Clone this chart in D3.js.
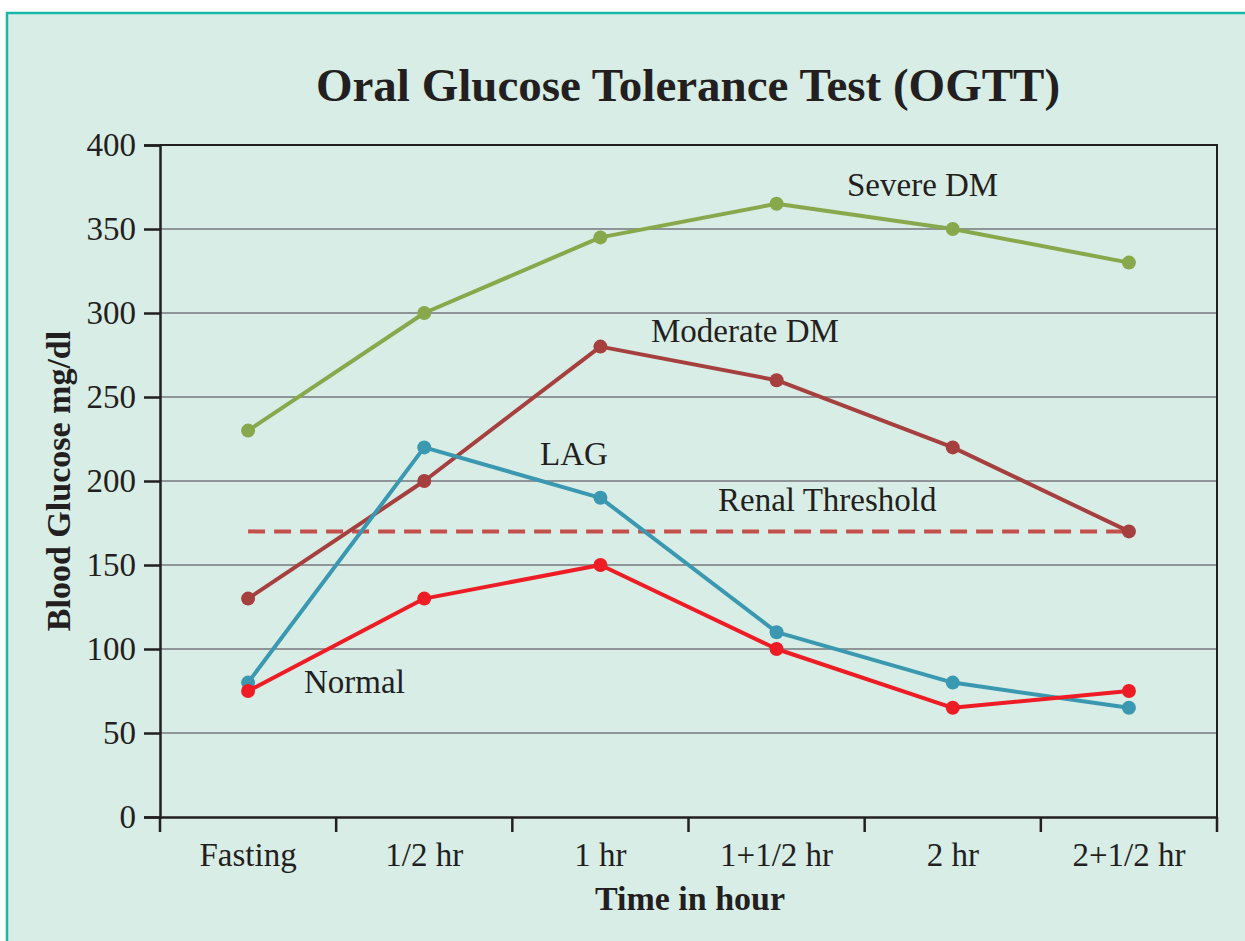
<!DOCTYPE html>
<html>
<head>
<meta charset="utf-8">
<script src="https://cdn.jsdelivr.net/npm/d3@7"></script>
<style>
  html, body { margin: 0; padding: 0; background: #ffffff; }
  svg { display: block; }
</style>
</head>
<body>
<svg id="chart" width="1245" height="941"></svg>
<script>
// Sampling times and measured blood glucose (mg/dl) for each curve
const times = ["Fasting", "1/2 hr", "1 hr", "1+1/2 hr", "2 hr", "2+1/2 hr"];
const severeDM = [230, 300, 345, 365, 350, 330];
const moderateDM = [130, 200, 280, 260, 220, 170];
const lag = [80, 220, 190, 110, 80, 65];
const normal = [75, 130, 150, 100, 65, 75];
const renalThreshold = 170;
const yTicks = [0, 50, 100, 150, 200, 250, 300, 350, 400];

const seriesList = [
  { name: "Severe DM", values: severeDM, color: "#87a84b" },
  { name: "Moderate DM", values: moderateDM, color: "#a6403f" },
  { name: "LAG", values: lag, color: "#3b98b1" },
  { name: "Normal", values: normal, color: "#ee1d25" }
];

const serif = "'Liberation Serif', 'DejaVu Serif', serif";
const svg = d3.select("#chart");

// Panel background with teal frame
svg.append("rect")
  .attr("x", 7).attr("y", 13).attr("width", 1260).attr("height", 960)
  .attr("fill", "#d8ede6").attr("stroke", "#17b7ab").attr("stroke-width", 2.5);

const plotLeft = 160, plotRight = 1217, plotTop = 145, plotBottom = 817;

const x = d3.scaleBand().domain(times).range([plotLeft, plotRight]).padding(0);
const y = d3.scaleLinear().domain([0, 400]).range([plotBottom, plotTop]);
const cx = d => x(d) + x.bandwidth() / 2;

// Horizontal grid lines
svg.append("g")
  .selectAll("line")
  .data(yTicks.filter(t => t > 0 && t < 400))
  .join("line")
  .attr("x1", plotLeft).attr("x2", plotRight)
  .attr("y1", d => y(d)).attr("y2", d => y(d))
  .attr("stroke", "#8f9497").attr("stroke-width", 2);

// Frame top and right edges
svg.append("path")
  .attr("d", `M${plotLeft},${plotTop}H${plotRight}V${plotBottom}`)
  .attr("fill", "none").attr("stroke", "#231f20").attr("stroke-width", 2);

// Y axis
const yAxis = svg.append("g")
  .attr("transform", `translate(${plotLeft},0)`)
  .call(d3.axisLeft(y).tickValues(yTicks).tickSize(16).tickPadding(8));
yAxis.select(".domain").attr("stroke", "#231f20").attr("stroke-width", 2.5);
yAxis.selectAll(".tick line").attr("stroke", "#231f20").attr("stroke-width", 2.5);
yAxis.selectAll(".tick text")
  .attr("font-family", serif).attr("font-size", 33).attr("fill", "#231f20");

// X axis: ticks at band boundaries
const xAxis = svg.append("g")
  .attr("transform", `translate(0,${plotBottom})`)
  .call(d3.axisBottom(x).tickSize(0).tickPadding(26));
xAxis.select(".domain").attr("stroke", "#231f20").attr("stroke-width", 2.5);
xAxis.selectAll(".tick text")
  .attr("font-family", serif).attr("font-size", 33).attr("fill", "#231f20");
const bounds = times.map(t => x(t)).concat([plotRight]);
xAxis.selectAll(".bound")
  .data(bounds)
  .join("line")
  .attr("class", "bound")
  .attr("x1", d => d).attr("x2", d => d)
  .attr("y1", 0).attr("y2", 15)
  .attr("stroke", "#231f20").attr("stroke-width", 2.5);

// Renal threshold dashed line
svg.append("line")
  .attr("x1", cx(times[0])).attr("x2", cx(times[times.length - 1]))
  .attr("y1", y(renalThreshold)).attr("y2", y(renalThreshold))
  .attr("stroke", "#c4504c").attr("stroke-width", 4)
  .attr("stroke-dasharray", "17,9");

// Curves with point markers
const line = d3.line().x((d, i) => cx(times[i])).y(d => y(d));
seriesList.forEach(s => {
  const g = svg.append("g");
  g.append("path")
    .attr("d", line(s.values))
    .attr("fill", "none").attr("stroke", s.color).attr("stroke-width", 4)
    .attr("stroke-linejoin", "round");
  g.selectAll("circle")
    .data(s.values)
    .join("circle")
    .attr("cx", (d, i) => cx(times[i]))
    .attr("cy", d => y(d))
    .attr("r", 7)
    .attr("fill", s.color);
});

// Curve annotations
const notes = [
  { text: "Severe DM", x: 847, y: 196 },
  { text: "Moderate DM", x: 651, y: 342 },
  { text: "LAG", x: 540, y: 465 },
  { text: "Renal Threshold", x: 718, y: 511 },
  { text: "Normal", x: 304, y: 693 }
];
svg.append("g")
  .selectAll("text")
  .data(notes)
  .join("text")
  .attr("x", d => d.x).attr("y", d => d.y)
  .attr("font-family", serif).attr("font-size", 33).attr("fill", "#231f20")
  .text(d => d.text);

// Title
svg.append("text")
  .attr("x", 688).attr("y", 101)
  .attr("text-anchor", "middle")
  .attr("font-family", serif).attr("font-weight", "bold")
  .attr("font-size", 47).attr("fill", "#231f20")
  .text("Oral Glucose Tolerance Test (OGTT)");

// Axis titles
svg.append("text")
  .attr("x", 690).attr("y", 910)
  .attr("text-anchor", "middle")
  .attr("font-family", serif).attr("font-weight", "bold")
  .attr("font-size", 34).attr("fill", "#231f20")
  .text("Time in hour");

svg.append("text")
  .attr("transform", "translate(70,481) rotate(-90)")
  .attr("text-anchor", "middle")
  .attr("font-family", serif).attr("font-weight", "bold")
  .attr("font-size", 34).attr("fill", "#231f20")
  .text("Blood Glucose mg/dl");
</script>
</body>
</html>
